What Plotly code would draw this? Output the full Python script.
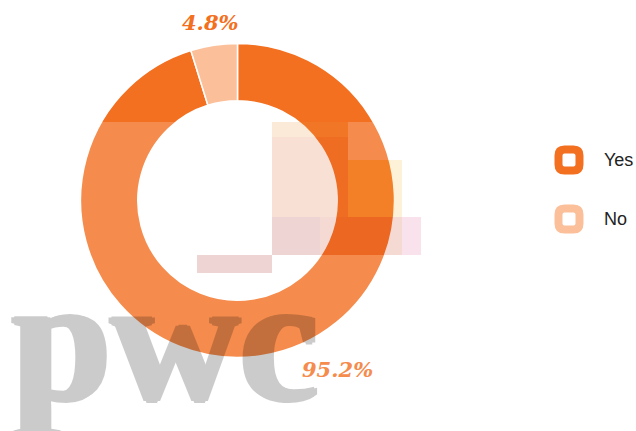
import plotly.graph_objects as go

# ---- data ----
categories = ["Yes", "No"]
values = [95.2, 4.8]
slice_colors = ["#F37021", "#FBC09A"]
watermark_text = "pwc"

W, H = 636, 431


def X(px):
    return px / W


def Y(py):
    return 1 - py / H


fig = go.Figure()

fig.add_trace(go.Pie(
    labels=categories,
    values=values,
    hole=0.635,
    sort=False,
    direction="clockwise",
    rotation=0,
    marker=dict(colors=slice_colors, line=dict(color="white", width=1.5)),
    textinfo="none",
    hoverinfo="label+percent",
    showlegend=False,
    domain=dict(x=[X(80), X(395)], y=[Y(357.5), Y(43.5)]),
))

shapes = []

# watermark wash (white, translucent) tiles
wash = [
    (0, 122, 272, 255),
    (348, 122, 425, 160),
    (402, 160, 425, 217),
    (421, 217, 425, 255),
    (0, 255, 197, 273),
    (272, 255, 425, 273),
    (0, 273, 425, 431),
]
for x0, y0, x1, y1 in wash:
    shapes.append(dict(type="rect", xref="paper", yref="paper", layer="above",
                       x0=X(x0), x1=X(x1), y0=Y(y1), y1=Y(y0),
                       fillcolor="white", opacity=0.2, line=dict(width=0)))

# watermark coloured blocks
blocks = [
    (272, 122, 348, 137, "rgb(235,150,60)"),
    (272, 137, 348, 217, "rgb(220,100,40)"),
    (348, 160, 402, 217, "rgb(245,190,60)"),
    (272, 217, 320, 255, "rgb(175,40,40)"),
    (320, 217, 402, 255, "rgb(205,70,40)"),
    (402, 217, 421, 255, "rgb(230,110,160)"),
    (197, 255, 272, 273, "rgb(175,40,40)"),
]
for x0, y0, x1, y1, c in blocks:
    shapes.append(dict(type="rect", xref="paper", yref="paper", layer="above",
                       x0=X(x0), x1=X(x1), y0=Y(y1), y1=Y(y0),
                       fillcolor=c, opacity=0.2, line=dict(width=0)))


def rounded(cx, cy, s, r):
    x0, x1 = cx - s / 2, cx + s / 2
    y0, y1 = cy - s / 2, cy + s / 2
    pts = [
        ("M", (x0 + r, y0)), ("L", (x1 - r, y0)), ("Q", (x1, y0), (x1, y0 + r)),
        ("L", (x1, y1 - r)), ("Q", (x1, y1), (x1 - r, y1)), ("L", (x0 + r, y1)),
        ("Q", (x0, y1), (x0, y1 - r)), ("L", (x0, y0 + r)), ("Q", (x0, y0), (x0 + r, y0)),
    ]
    out = []
    for p in pts:
        cmd = p[0]
        coords = " ".join(f"{X(a):.5f},{Y(b):.5f}" for a, b in p[1:])
        out.append(f"{cmd} {coords}")
    return " ".join(out) + " Z"


annotations = []
# legend
leg_y = [160, 219]
for name, col, ly in zip(categories, slice_colors, leg_y):
    shapes.append(dict(type="path", xref="paper", yref="paper", layer="above",
                       path=rounded(569, ly, 21, 6), fillcolor="white",
                       line=dict(color=col, width=8)))
    annotations.append(dict(xref="paper", yref="paper", x=X(602), y=Y(ly),
                            xanchor="left", yanchor="middle", showarrow=False,
                            text=name,
                            font=dict(family="Liberation Sans, Arial", size=18, color="#222222")))

# percentage labels
label_pos = [(337, 369, "#F58B4C"), (210.5, 22.5, "#F37021")]
for v, (lx, ly, lc) in zip(values, label_pos):
    annotations.append(dict(xref="paper", yref="paper", x=X(lx), y=Y(ly),
                            xanchor="center", yanchor="middle", showarrow=False,
                            text=f"{v}%",
                            font=dict(family="DejaVu Serif", size=21, color=lc,
                                      style="italic", weight="bold")))

# watermark text (solid black, whole annotation at 20% opacity)
annotations.append(dict(xref="paper", yref="paper", x=X(165), y=Y(339),
                        xanchor="center", yanchor="middle", showarrow=False,
                        text=watermark_text, opacity=0.2,
                        font=dict(family="Liberation Serif", size=178, weight="bold",
                                  color="black",
                                  shadow="3px 0 0 #000, -3px 0 0 #000, 0 2px 0 #000, 0 -1px 0 #000")))

fig.update_layout(
    width=W, height=H, autosize=False,
    margin=dict(l=0, r=0, t=0, b=0),
    paper_bgcolor="white", plot_bgcolor="white",
    shapes=shapes, annotations=annotations,
    showlegend=False,
)

fig.write_html("out.html", config={"displayModeBar": False},
               post_script="document.body.style.margin='0px';document.body.style.overflow='hidden';")
